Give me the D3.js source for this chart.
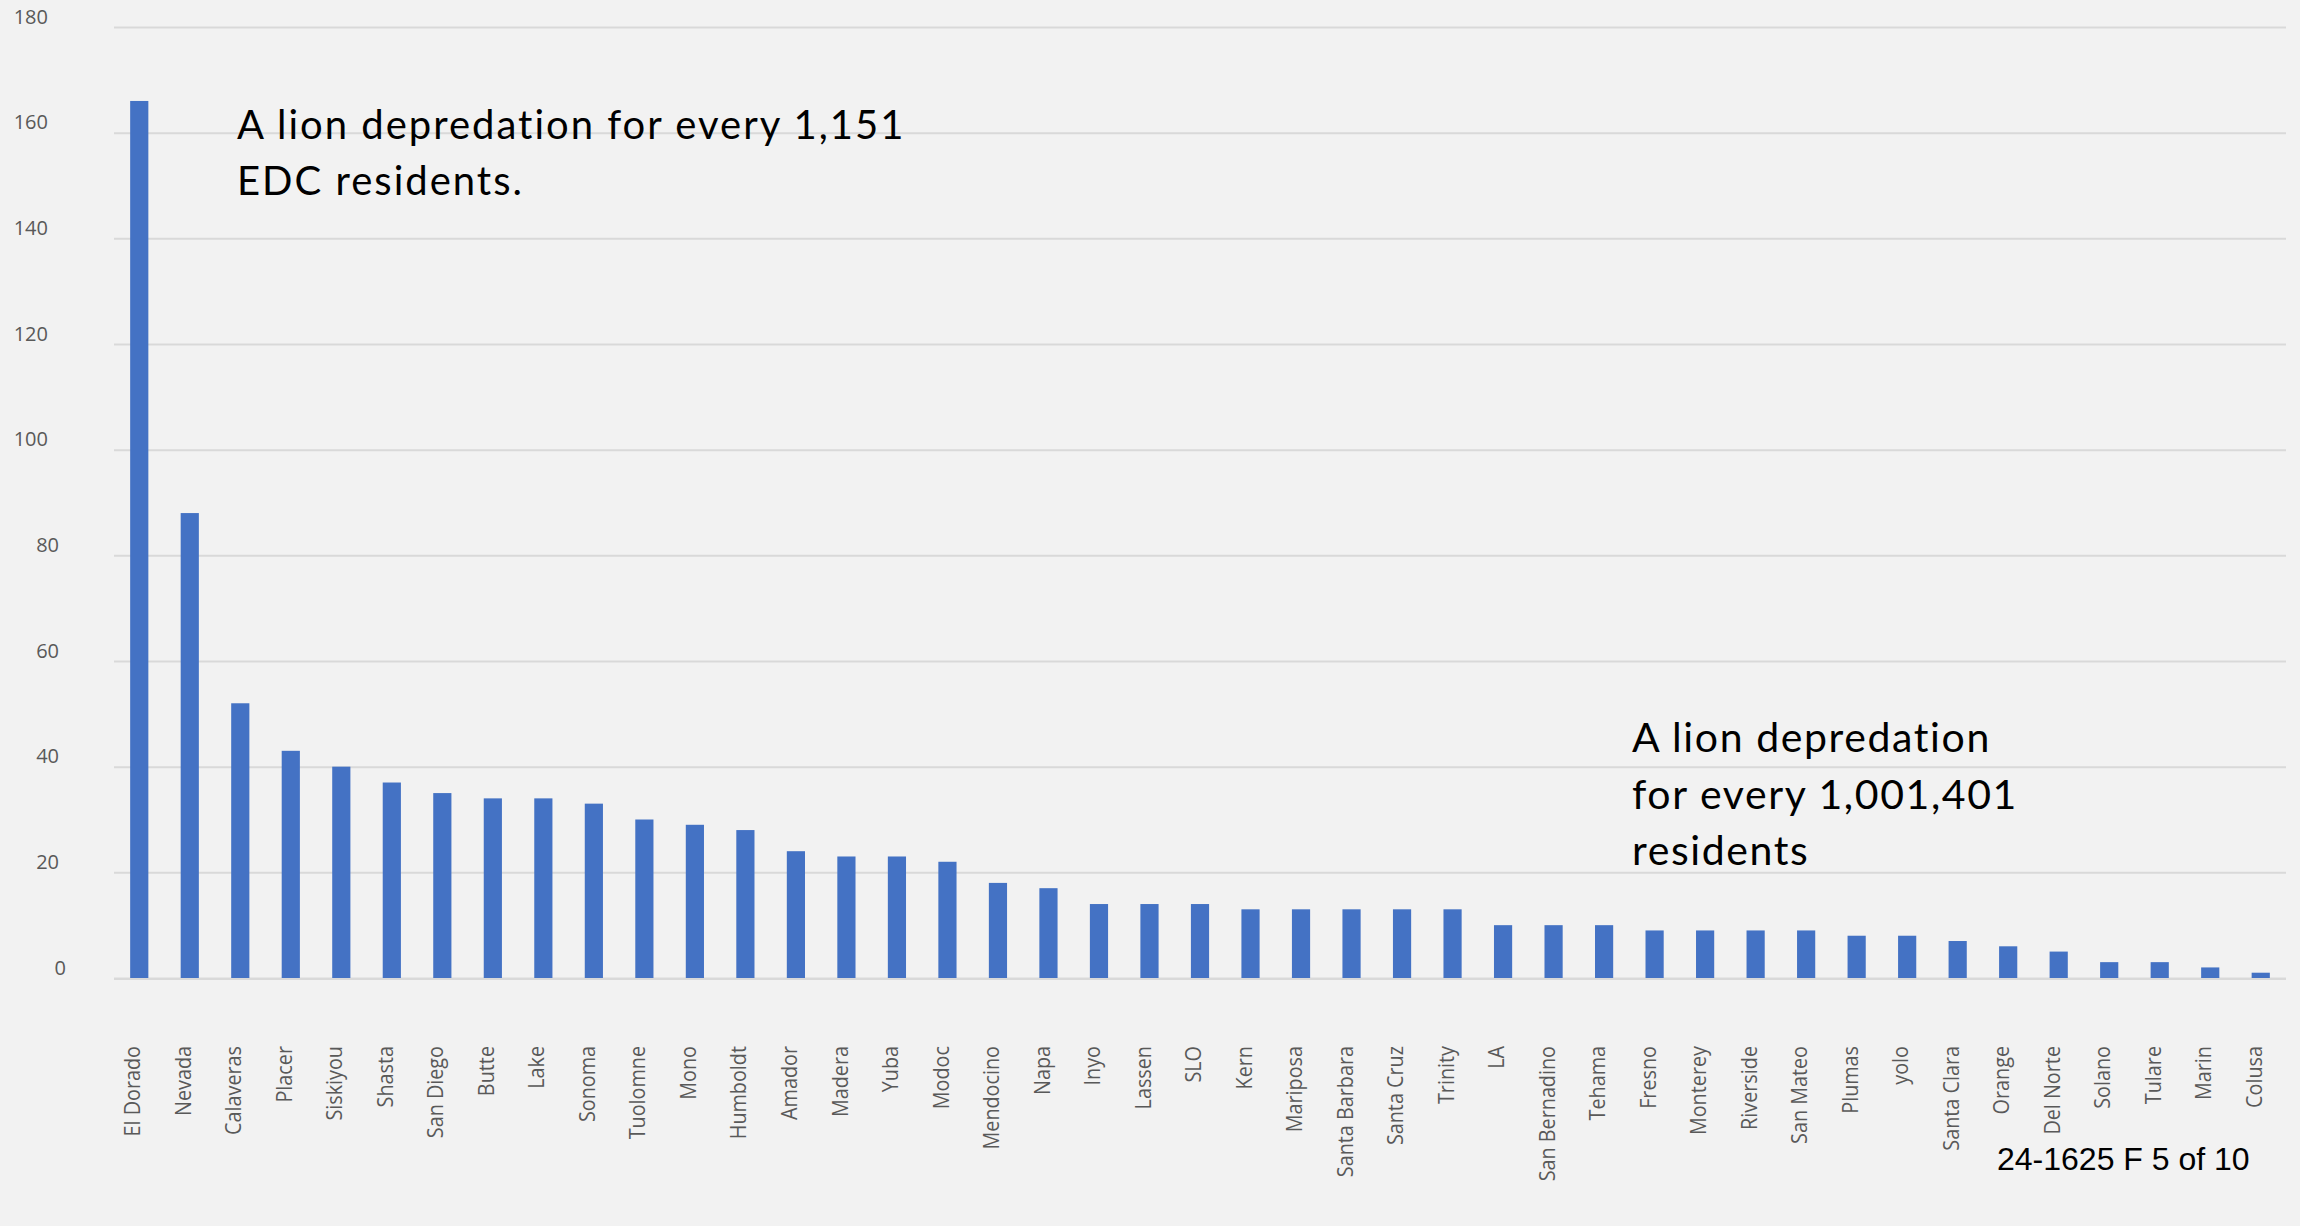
<!DOCTYPE html>
<html>
<head>
<meta charset="utf-8">
<script src="https://cdn.jsdelivr.net/npm/d3@7"></script>
<style>
  html, body { margin: 0; padding: 0; background: #f2f2f2; overflow: hidden; }
  svg { display: block; }
</style>
</head>
<body>
<svg id="chart" width="2300" height="1226"></svg>
<script>
// Mountain lion depredation permits by county
const counties = [
  "El Dorado", "Nevada", "Calaveras", "Placer", "Siskiyou", "Shasta", "San Diego",
  "Butte", "Lake", "Sonoma", "Tuolomne", "Mono", "Humboldt", "Amador", "Madera",
  "Yuba", "Modoc", "Mendocino", "Napa", "Inyo", "Lassen", "SLO", "Kern", "Mariposa",
  "Santa Barbara", "Santa Cruz", "Trinity", "LA", "San Bernadino", "Tehama", "Fresno",
  "Monterey", "Riverside", "San Mateo", "Plumas", "yolo", "Santa Clara", "Orange",
  "Del Norte", "Solano", "Tulare", "Marin", "Colusa"
];
const depredations = [
  166, 88, 52, 43, 40, 37, 35,
  34, 34, 33, 30, 29, 28, 24, 23,
  23, 22, 18, 17, 14, 14, 14, 13, 13,
  13, 13, 13, 10, 10, 10, 9,
  9, 9, 9, 8, 8, 7, 6,
  5, 3, 3, 2, 1
];
const yTicks = [0, 20, 40, 60, 80, 100, 120, 140, 160, 180];

const noteHigh = ["A lion depredation for every 1,151", "EDC residents."];
const noteLow = ["A lion depredation", "for every 1,001,401", "residents"];
const footer = "24-1625 F 5 of 10";

const svg = d3.select("#chart");
const plot = { left: 114, right: 2286, top: 27, bottom: 978 };

svg.append("rect")
  .attr("width", 2300).attr("height", 1226)
  .attr("fill", "#f2f2f2");

const x = d3.scaleBand()
  .domain(counties)
  .range([plot.left, plot.right])
  .paddingInner(0.64)
  .paddingOuter(0.32);

const y = d3.scaleLinear()
  .domain([0, 180])
  .range([plot.bottom, plot.top]);

// Horizontal gridlines
const grid = svg.append("g")
  .attr("transform", `translate(${plot.left},0)`)
  .call(d3.axisLeft(y).tickValues(yTicks).tickSize(-(plot.right - plot.left)).tickFormat(""));
grid.select(".domain").remove();
grid.selectAll(".tick line")
  .attr("stroke", "#d9d9d9")
  .attr("stroke-width", 2);

// Y-axis tick labels (sit slightly above their gridlines)
const yAxis = svg.append("g")
  .call(d3.axisLeft(y).tickValues(yTicks).tickSize(0).tickPadding(0));
yAxis.select(".domain").remove();
yAxis.selectAll(".tick text")
  .attr("text-anchor", "end")
  .attr("x", d => ({ 1: 66, 2: 59, 3: 48 })[String(d).length])
  .attr("dy", "-0.2em")
  .attr("fill", "#595959")
  .style("font-family", "'Open Sans', sans-serif")
  .style("font-size", "20px");

// Bars
svg.append("g")
  .selectAll("rect")
  .data(counties)
  .join("rect")
  .attr("x", d => x(d))
  .attr("width", x.bandwidth())
  .attr("y", (d, i) => y(depredations[i]))
  .attr("height", (d, i) => y(0) - y(depredations[i]))
  .attr("fill", "#4472c4");

// Baseline
svg.append("line")
  .attr("x1", plot.left).attr("x2", plot.right)
  .attr("y1", y(0) + 1).attr("y2", y(0) + 1)
  .attr("stroke", "#d9d9d9")
  .attr("stroke-width", 2);

// Category labels, rotated to read upward (slightly condensed)
const xAxis = svg.append("g")
  .attr("transform", `translate(0,1046)`)
  .call(d3.axisBottom(x).tickSize(0).tickPadding(0));
xAxis.select(".domain").remove();
xAxis.selectAll(".tick text")
  .attr("transform", "rotate(-90) scale(0.9,1)")
  .attr("text-anchor", "end")
  .attr("x", 0)
  .attr("y", 0)
  .attr("dy", "0.05em")
  .attr("fill", "#595959")
  .style("font-family", "'Open Sans', sans-serif")
  .style("font-size", "22px");

// Annotations
const noteFont = "Lato, 'Open Sans', sans-serif";
svg.append("text")
  .attr("x", 237)
  .attr("y", 139)
  .style("font-family", noteFont)
  .style("font-size", "40px")
  .style("letter-spacing", "2px")
  .attr("fill", "#000")
  .selectAll("tspan")
  .data(noteHigh)
  .join("tspan")
  .attr("x", 237)
  .attr("dy", (d, i) => i === 0 ? 0 : 56)
  .text(d => d);

svg.append("text")
  .attr("x", 1632)
  .attr("y", 752)
  .style("font-family", noteFont)
  .style("font-size", "41px")
  .style("letter-spacing", "1.6px")
  .attr("fill", "#000")
  .selectAll("tspan")
  .data(noteLow)
  .join("tspan")
  .attr("x", 1632)
  .attr("dy", (d, i) => i === 0 ? 0 : 56.5)
  .text(d => d);

// Page reference
svg.append("text")
  .attr("x", 1997)
  .attr("y", 1170)
  .style("font-family", "'Liberation Sans', Arial, sans-serif")
  .style("font-size", "32px")
  .attr("fill", "#000")
  .text(footer);
</script>
</body>
</html>
